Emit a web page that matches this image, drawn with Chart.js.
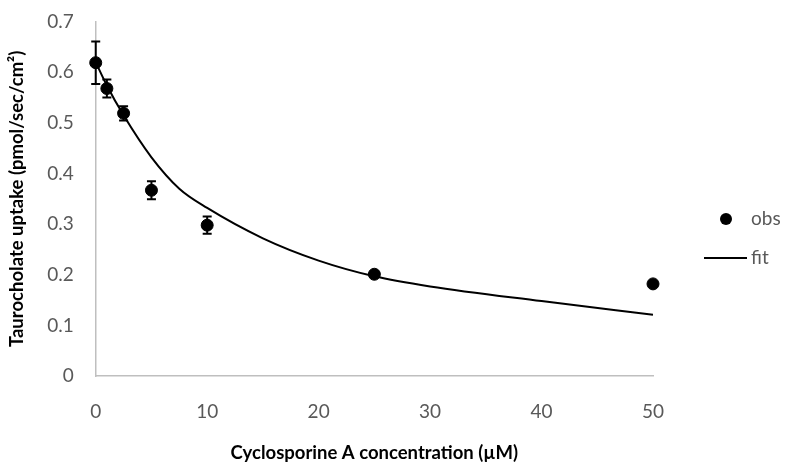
<!DOCTYPE html>
<html>
<head>
<meta charset="utf-8">
<script src="https://cdn.jsdelivr.net/npm/chart.js@4"></script>
<style>
  html, body { margin: 0; padding: 0; background: #fff; }
  #wrap { width: 785px; height: 464px; }
</style>
</head>
<body>
<div id="wrap"><canvas id="chart"></canvas></div>
<script>
const concentrations = [0, 1, 2.5, 5, 10, 25, 50];
const uptake = [0.619, 0.568, 0.519, 0.367, 0.298, 0.201, 0.182];
const uptakeErr = [0.042, 0.018, 0.014, 0.018, 0.017, 0.004, 0.004];

// fitted curve
const fitX = [0, 1, 2.5, 5, 7.5, 10, 15, 20, 25, 30, 40, 50];
const fitY = [0.62, 0.574, 0.515, 0.432, 0.37, 0.332, 0.272, 0.228, 0.197, 0.177, 0.148, 0.121];

const xTicks = [0, 10, 20, 30, 40, 50];
const yTicks = [0, 0.1, 0.2, 0.3, 0.4, 0.5, 0.6, 0.7];

const FONT = 'Lato, "Open Sans", sans-serif';
const axisGrey = '#bfbfbf';
const textGrey = '#595959';

// error bars for the obs dataset
const errorBarPlugin = {
  id: 'errorBars',
  afterDatasetsDraw(chart) {
    const ctx = chart.ctx;
    const xs = chart.scales.x, ys = chart.scales.y;
    ctx.save();
    ctx.strokeStyle = '#000';
    ctx.lineWidth = 2;
    concentrations.forEach((c, i) => {
      const px = xs.getPixelForValue(c);
      const top = ys.getPixelForValue(uptake[i] + uptakeErr[i]);
      const bot = ys.getPixelForValue(uptake[i] - uptakeErr[i]);
      ctx.beginPath();
      ctx.moveTo(px, top); ctx.lineTo(px, bot);
      ctx.moveTo(px - 4.5, top); ctx.lineTo(px + 4.5, top);
      ctx.moveTo(px - 4.5, bot); ctx.lineTo(px + 4.5, bot);
      ctx.stroke();
    });
    ctx.restore();
  }
};

// legend on the right, drawn like the original
const sideLegend = {
  id: 'sideLegend',
  afterDraw(chart) {
    const ctx = chart.ctx;
    const r = chart.chartArea.right;
    ctx.save();
    ctx.fillStyle = '#000';
    ctx.beginPath();
    ctx.arc(r + 73, 219, 6, 0, Math.PI * 2);
    ctx.fill();
    ctx.strokeStyle = '#000';
    ctx.lineWidth = 2;
    ctx.beginPath();
    ctx.moveTo(r + 51, 258); ctx.lineTo(r + 94, 258);
    ctx.stroke();
    ctx.fillStyle = textGrey;
    ctx.font = '19px ' + FONT;
    ctx.textBaseline = 'middle';
    ctx.fillText('obs', r + 98, 219);
    ctx.fillText('fit', r + 98, 258);
    ctx.restore();
  }
};

new Chart(document.getElementById('chart'), {
  type: 'scatter',
  data: {
    datasets: [
      {
        label: 'obs',
        data: concentrations.map((c, i) => ({ x: c, y: uptake[i] })),
        backgroundColor: '#000',
        borderColor: '#000',
        pointRadius: 6,
        pointHoverRadius: 6,
        showLine: false,
        clip: false
      },
      {
        label: 'fit',
        data: fitX.map((c, i) => ({ x: c, y: fitY[i] })),
        borderColor: '#000',
        borderWidth: 2,
        pointRadius: 0,
        showLine: true,
        clip: false,
        tension: 0.3,
        cubicInterpolationMode: 'monotone'
      }
    ]
  },
  options: {
    animation: false,
    responsive: true,
    maintainAspectRatio: false,
    layout: { padding: { top: 21.7, right: 132, bottom: 2, left: 6 } },
    plugins: { legend: { display: false }, tooltip: { enabled: false } },
    scales: {
      x: {
        type: 'linear',
        min: 0, max: 50,
        afterBuildTicks: s => { s.ticks = xTicks.map(v => ({ value: v })); },
        grid: { display: false, drawTicks: true, tickLength: 6, tickColor: axisGrey },
        border: { color: axisGrey, width: 1.5 },
        ticks: { color: textGrey, font: { family: FONT, size: 19 }, padding: 18 },
        title: {
          display: true,
          text: 'Cyclosporine A concentration (µM)',
          color: '#000',
          font: { family: FONT, size: 18.5, weight: 'bold', lineHeight: 1.0 },
          padding: { top: 2.7, bottom: 0 }
        }
      },
      y: {
        type: 'linear',
        min: 0, max: 0.7,
        afterBuildTicks: s => { s.ticks = yTicks.map(v => ({ value: v })); },
        afterFit: s => { s.paddingTop = 0; },
        grid: { display: false, drawTicks: true, tickLength: 6, tickColor: axisGrey },
        border: { color: axisGrey, width: 1.5 },
        ticks: { color: textGrey, font: { family: FONT, size: 19 }, padding: 16,
                 callback: v => v === 0 ? '0' : v.toFixed(1) },
        title: {
          display: true,
          text: 'Taurocholate uptake (pmol/sec/cm²)',
          color: '#000',
          font: { family: FONT, size: 18.5, weight: 'bold' },
          padding: { top: 0, bottom: 3 }
        }
      }
    }
  },
  plugins: [errorBarPlugin, sideLegend]
});
</script>
</body>
</html>
